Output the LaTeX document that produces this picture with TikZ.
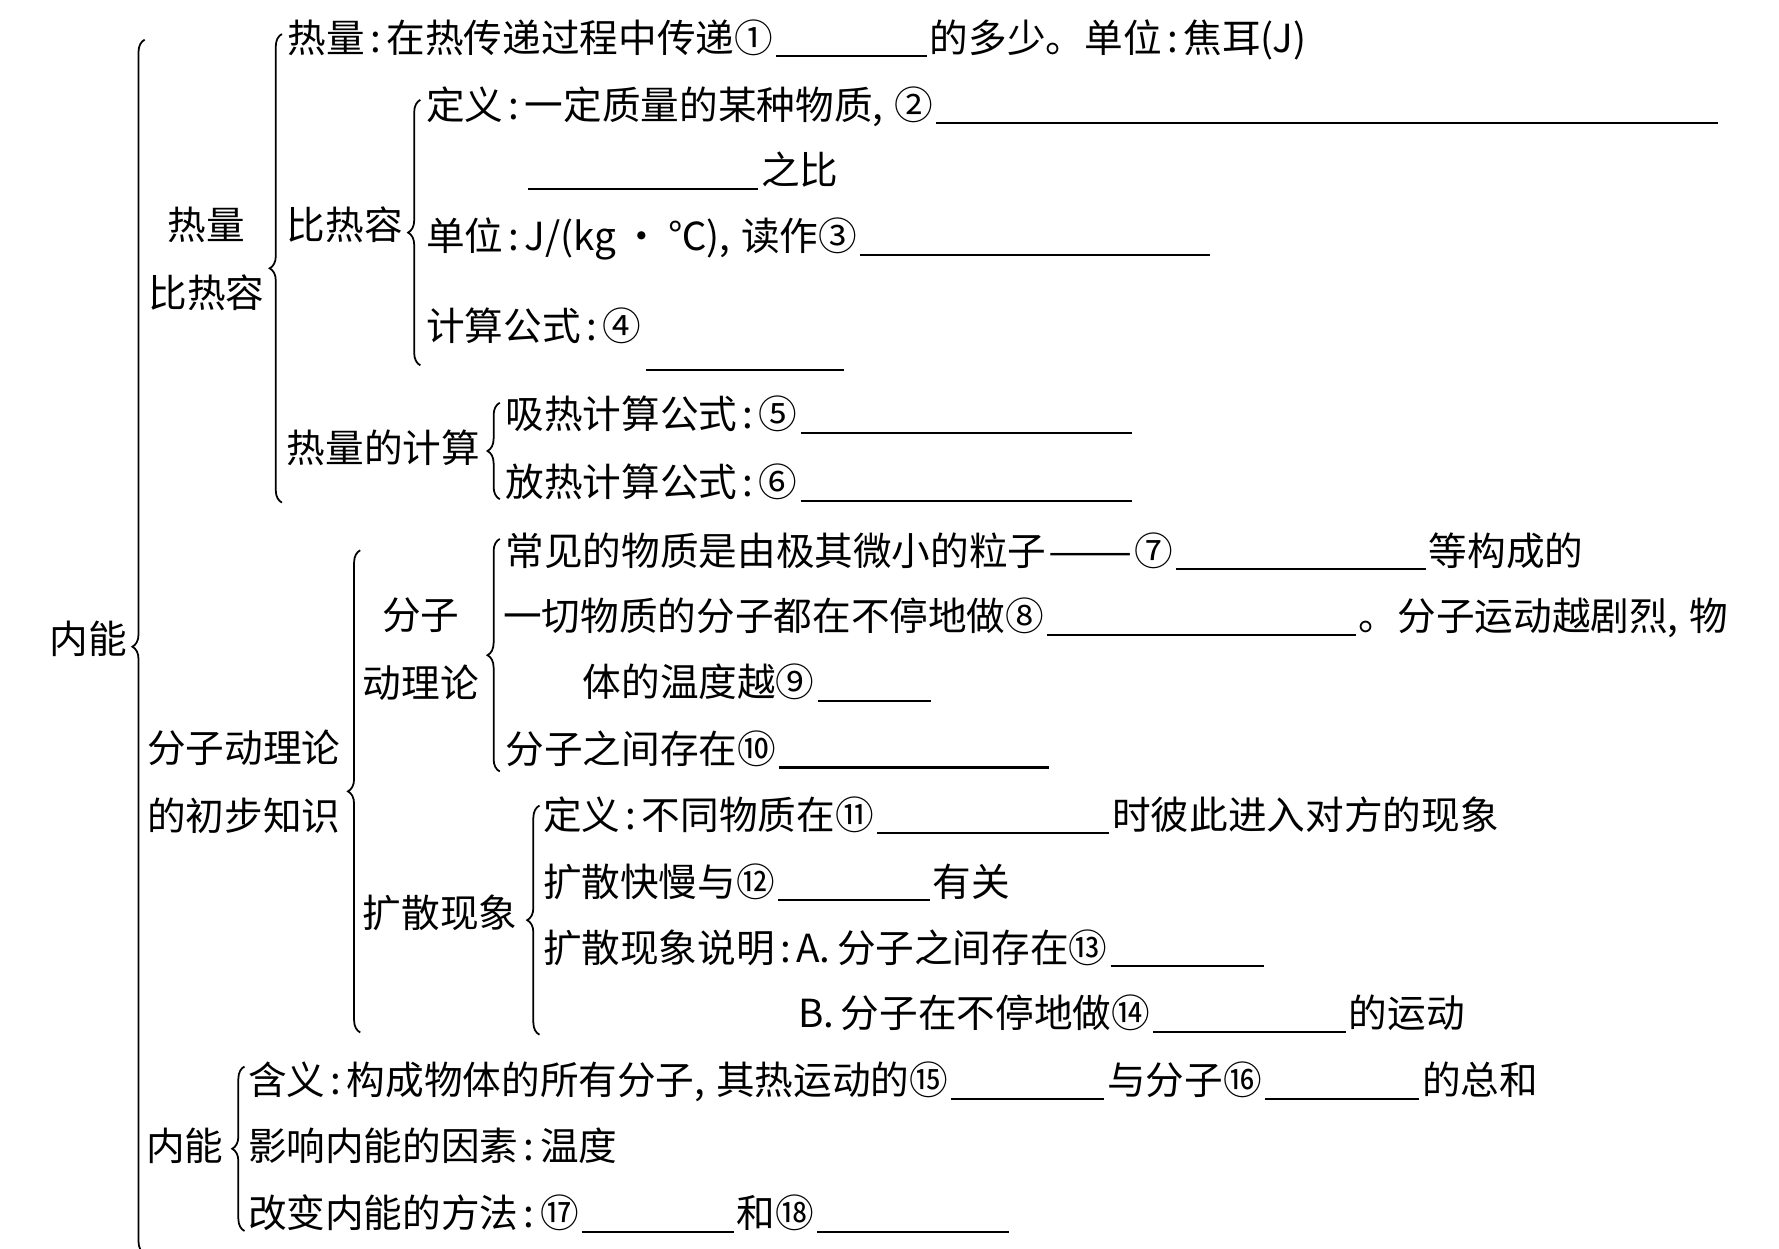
\documentclass[tikz,border=0pt]{standalone}
\usepackage{fontspec}
\usepackage{graphicx}
\setmainfont{Noto Sans CJK SC}
\usetikzlibrary{decorations.pathreplacing}

\newlength\pxu
\setlength\pxu{0.11346mm}
% fill-in blank, width in picture units
\newcommand\blank[1]{\kern.08em\rule[-.13em]{#1\pxu}{.6pt}\kern.08em}
\newcommand\zc{\kern.14em:\kern.14em}
\newcommand\zm{,\kern.28em}

\begin{document}
\begin{tikzpicture}[
    x=0.011346cm, y=-0.011346cm,
    font=\fontsize{11}{13}\selectfont,
    txt/.style={anchor=west, inner sep=0pt, text height=9.7pt, text depth=1.3pt},
    lbl/.style={align=center, inner sep=0pt, font=\fontsize{11}{19.3}\selectfont},
    brc/.style={decorate, decoration={brace, amplitude=3.5pt}, line width=.5pt}
]
\useasboundingbox (0,0) rectangle (1568,1100);

% left labels
\node[lbl] (nn) at (78,563) {内能};
\node[lbl] (rlbrr) at (182,228) {热量\\比热容};
\node[lbl] (brr) at (304,198) {比热容};
\node[lbl] (rljs) at (338,395) {热量的计算};
\node[lbl] (fzcb) at (215,689) {分子动理论\\的初步知识};
\node[lbl] (fzdl) at (371,572) {分子\\动理论};
\node[lbl] (ksxx) at (388,805) {扩散现象};
\node[lbl] (nn2) at (163,1010) {内能};

% 热量 比热容
\node[txt] (rl) at (253,33) {热量\zc 在热传递过程中传递①\blank{133}的多少。单位\zc 焦耳(J)};
\node[txt] (dy) at (375,92) {定义\zc 一定质量的某种物质\zm ②\blank{690}};
\node[txt] (zb) at (462,150) {\blank{203}之比};
\node[txt] (dw) at (375,208) {单位\zc J/(kg\,·\,℃)\zm 读作③\blank{308}};
\node[txt] (gs) at (375,287) {计算公式\zc ④};
\node[txt] (gsb) at (566,310) {\blank{175}};
\node[txt] (xr) at (445,365) {吸热计算公式\zc ⑤\blank{292}};
\node[txt] (fr) at (445,425) {放热计算公式\zc ⑥\blank{292}};

% 分子动理论
\node[txt] (cj) at (445,485) {常见的物质是由极其微小的粒子\kern.05em\scalebox{1.3}[1]{——}\kern.05em⑦\blank{220}等构成的};
\node[txt] (yq) at (443,543) {一切物质的分子都在不停地做⑧\blank{272}。分子运动越剧烈\zm 物};
\node[txt] (wd) at (513,601) {体的温度越⑨\blank{100}};
\node[txt] (jc) at (445,660) {分子之间存在⑩\blank{238}};
\node[txt] (ky) at (478,718) {定义\zc 不同物质在⑪\blank{205}时彼此进入对方的现象};
\node[txt] (km) at (478,777) {扩散快慢与⑫\blank{134}有关};
\node[txt] (sa) at (478,835) {扩散现象说明\zc A.\,分子之间存在⑬\blank{135}};
\node[txt] (sb) at (703,893) {B.\,分子在不停地做⑭\blank{170}的运动};

% 内能
\node[txt] (hy) at (218,952) {含义\zc 构成物体的所有分子\zm 其热运动的⑮\blank{135}与分子⑯\blank{136}的总和};
\node[txt] (yx) at (218,1010) {影响内能的因素\zc 温度};
\node[txt] (gb) at (218,1069) {改变内能的方法\zc ⑰\blank{134}和⑱\blank{169}};

% braces, drawn bottom to top so the tip points left
\draw[brc] (127.5,1105) -- (127.5,35);
\draw[brc] (248.5,443) -- (248.5,30);
\draw[brc] (370.5,322) -- (370.5,88);
\draw[brc] (440.5,440) -- (440.5,355);
\draw[brc] (317.5,910) -- (317.5,485);
\draw[brc] (440.5,680) -- (440.5,475);
\draw[brc] (475.5,912) -- (475.5,710);
\draw[brc] (215.5,1085) -- (215.5,940);
\end{tikzpicture}
\end{document}
